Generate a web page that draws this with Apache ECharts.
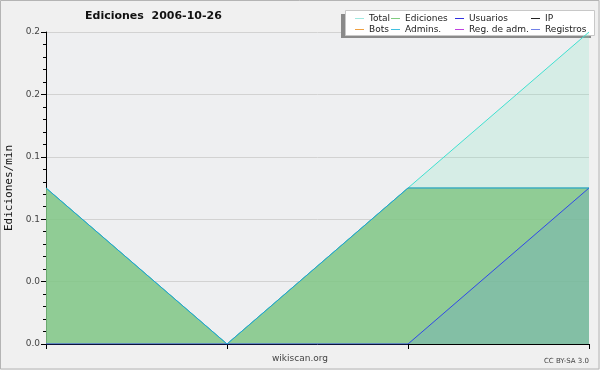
<!DOCTYPE html>
<html><head><meta charset="utf-8">
<script src="https://cdn.jsdelivr.net/npm/echarts@6/dist/echarts.min.js"></script>
<style>html,body{margin:0;padding:0;background:#f0f0f0}#c{width:600px;height:370px}</style>
</head><body><div id="c"></div>
<script>
const categories = ["0", "1", "2", "3"];
const total = [0.125, 0, 0.125, 0.25];
const ediciones = [0.125, 0, 0.125, 0.125];
const usuarios = [0, 0, 0, 0.125];
const admins = [0.125, 0, 0.125, 0.125];
const ip = [];
const bots = [];
const regAdm = [];
const registros = [];
const yMax = 0.25;

const chart = echarts.init(document.getElementById('c'));
const F = 'DejaVu Sans';
function leg(left, names) {
  return {
    left: left, top: 14, orient: 'vertical', itemGap: 2,
    itemWidth: 9, itemHeight: 1, icon: 'rect',
    textStyle: {fontFamily: F, fontSize: 9, color: '#222', padding: [0,0,0,0]},
    data: names, selectedMode: false, padding: 0
  };
}
chart.setOption({
  backgroundColor: '#f0f0f0',
  animation: false,
  title: {text: 'Ediciones  2006-10-26', left: 85, top: 11, padding: 0,
    textStyle: {fontFamily: F, fontSize: 11, fontWeight: 'bold', color: '#111'}},
  graphic: [
    {type: 'rect', shape: {x: 0.5, y: 0.5, width: 598.5, height: 368.5},
     style: {fill: null, stroke: '#b4b4b4', lineWidth: 1}, silent: true, z: -1},
    {type: 'rect', shape: {x: 341, y: 14, width: 250, height: 24},
     style: {fill: '#8a8a8a', stroke: null}, z: 1},
    {type: 'rect', shape: {x: 345.5, y: 10.5, width: 249, height: 25},
     style: {fill: '#ffffff', stroke: '#c8c8c8', lineWidth: 1}, z: 2},
    {type: 'text', left: 'center', top: 354,
     style: {text: 'wikiscan.org', fontFamily: F, fontSize: 9, fill: '#444'}, z: 5},
    {type: 'text', right: 11, top: 358,
     style: {text: 'CC BY-SA 3.0', fontFamily: F, fontSize: 7, fill: '#444'}, z: 5}
  ],
  legend: [
    leg(355, [{name: 'Total'}, {name: 'Bots'}]),
    leg(391, [{name: 'Ediciones'}, {name: 'Admins.'}]),
    leg(455, [{name: 'Usuarios'}, {name: 'Reg. de adm.'}]),
    leg(531, [{name: 'IP'}, {name: 'Registros'}])
  ].map(l => Object.assign(l, {z: 10})),
  grid: {left: 46, right: 11, top: 32, bottom: 26, show: true, containLabel: false,
    outerBoundsMode: 'none',
    backgroundColor: '#eeeff1', borderWidth: 0},
  xAxis: {type: 'category', data: categories, boundaryGap: false,
    axisLine: {lineStyle: {color: '#000', width: 1}},
    axisTick: {show: true, length: 5, lineStyle: {color: '#000'}, alignWithLabel: true},
    axisLabel: {show: false}, splitLine: {show: false}},
  yAxis: {type: 'value', min: 0, max: yMax, interval: 0.05,
    name: 'Ediciones/min', nameLocation: 'middle', nameGap: 25, nameRotate: 90,
    nameTextStyle: {fontFamily: 'DejaVu Sans Mono', fontSize: 11, color: '#111'},
    axisLine: {show: true, lineStyle: {color: '#000', width: 1}},
    axisTick: {show: true, length: 5, lineStyle: {color: '#000'}},
    minorTick: {show: true, splitNumber: 5, length: 3, lineStyle: {color: '#000'}},
    axisLabel: {fontFamily: F, fontSize: 9, color: '#444', margin: 6,
      formatter: v => (Math.floor(v * 10 + 1e-9) / 10).toFixed(1)},
    splitLine: {show: true, lineStyle: {color: '#d2d2d2', width: 1}}},
  series: [
    {name: 'Total', type: 'line', data: total, symbol: 'none', z: 2,
     lineStyle: {color: '#40e0d0', width: 1}, itemStyle: {color: '#a0e8e0'},
     areaStyle: {color: 'rgba(120,230,190,0.2)', opacity: 1, origin: 'start'}},
    {name: 'Ediciones', type: 'line', data: ediciones, symbol: 'none', z: 3,
     lineStyle: {color: '#83c686', width: 1}, itemStyle: {color: '#80cc80'},
     areaStyle: {color: 'rgba(128,197,131,0.82)', opacity: 1, origin: 'start'}},
    {name: 'Usuarios', type: 'line', data: usuarios, symbol: 'none', z: 4,
     lineStyle: {color: '#3048e8', width: 1}, itemStyle: {color: '#3030e0'},
     areaStyle: {color: 'rgba(82,139,230,0.2)', opacity: 1, origin: 'start'}},
    {name: 'IP', type: 'line', data: ip, symbol: 'none', itemStyle: {color: '#222'}},
    {name: 'Bots', type: 'line', data: bots, symbol: 'none', itemStyle: {color: '#f0a040'}},
    {name: 'Admins.', type: 'line', data: admins, symbol: 'none', z: 5,
     lineStyle: {color: '#1aa0dc', width: 1}, itemStyle: {color: '#40c0e0'}},
    {name: 'Reg. de adm.', type: 'line', data: regAdm, symbol: 'none', itemStyle: {color: '#c040e0'}},
    {name: 'Registros', type: 'line', data: registros, symbol: 'none', itemStyle: {color: '#7080e8'}}
  ]
});
</script></body></html>
